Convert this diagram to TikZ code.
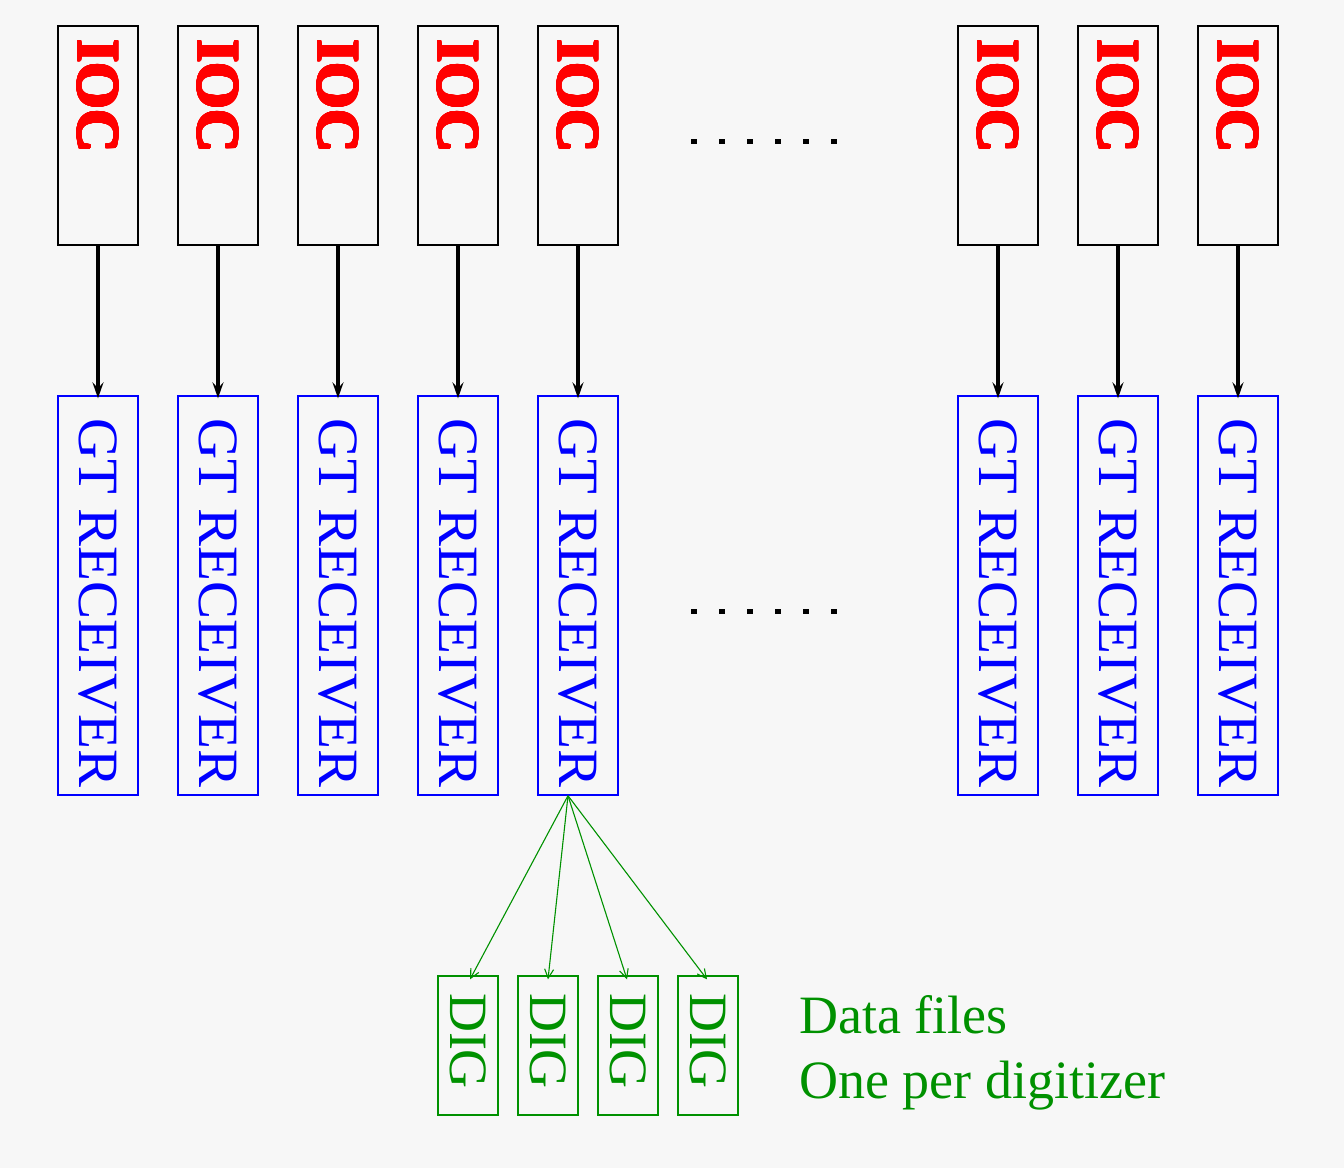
\documentclass[tikz,border=0pt]{standalone}
\usepackage{fontspec}
\setmainfont{Liberation Serif}
\usepackage{contour}
\contourlength{1.1pt}
\contournumber{24}
\usetikzlibrary{arrows.meta}
\definecolor{bgc}{HTML}{F7F7F7}
\definecolor{dgreen}{RGB}{0,145,0}
\begin{document}
\begin{tikzpicture}[x=1pt,y=-1pt,
  iocbox/.style={draw=black,line width=1.6pt,minimum width=80pt,minimum height=219pt,inner sep=0pt},
  gtbox/.style={draw=blue,line width=1.4pt,minimum width=80pt,minimum height=399pt,inner sep=0pt},
  digbox/.style={draw=dgreen,line width=1.3pt,minimum width=60pt,minimum height=139pt,inner sep=0pt},
  ioctxt/.style={rotate=-90,anchor=west,inner sep=0pt,text depth=0pt,text=red,font=\fontsize{60}{60}\selectfont\bfseries},
  gttxt/.style={rotate=-90,anchor=center,inner sep=0pt,text depth=0pt,text=blue,font=\fontsize{57}{57}\selectfont},
  digtxt/.style={rotate=-90,anchor=center,inner sep=0pt,text depth=0pt,text=dgreen,font=\fontsize{54}{54}\selectfont},
  blk/.style={draw=black,line width=3.4pt,-{Stealth[length=16pt,width=11pt,inset=6pt]}},
  grn/.style={draw=dgreen,line width=1.1pt,-{Straight Barb[length=9pt,width=9pt]}},
  note/.style={anchor=base west,inner sep=0pt,text=dgreen,font=\fontsize{54}{54}\selectfont},
  dotsq/.style={fill=black,draw=none,minimum size=5.5pt,inner sep=0pt}
]
\fill[bgc] (0,0) rectangle (1344,1168);
\useasboundingbox (0,0) rectangle (1344,1168);
% columns
\foreach \i/\x in {1/98,2/218,3/338,4/458,5/578,6/998,7/1118,8/1238}{
  \node[iocbox] (ioc\i) at (\x,135.5) {};
  \node[ioctxt] (ioct\i) at (\x,39) {\contour{red}{IOC}};
  \node[gtbox] (gt\i) at (\x,595.5) {};
  \node[gttxt] (gtt\i) at (\x,603) {GT RECEIVER};
  \draw[blk] (ioc\i.south) -- ([yshift=-3pt]gt\i.north);
}
% dots
\foreach \j/\x in {1/694,2/722,3/750,4/778,5/806,6/834}{
  \node[dotsq] (da\j) at (\x,141.5) {};
  \node[dotsq] (db\j) at (\x,611.5) {};
}
% digitizers
\coordinate (src) at ([xshift=-10pt]gt5.south);
\foreach \k/\x/\dx in {1/468/2,2/548/0,3/628/-1,4/708/-1}{
  \node[digbox] (dig\k) at (\x,1045.5) {};
  \node[digtxt] (digt\k) at (\x,1041) {DIG};
  \draw[grn] (src) -- ([xshift=\dx pt,yshift=-4pt]dig\k.north);
}
\node[note] (n1) at (799,1033) {Data files};
\node[note] (n2) at (799,1098) {One per digitizer};
\end{tikzpicture}
\end{document}
